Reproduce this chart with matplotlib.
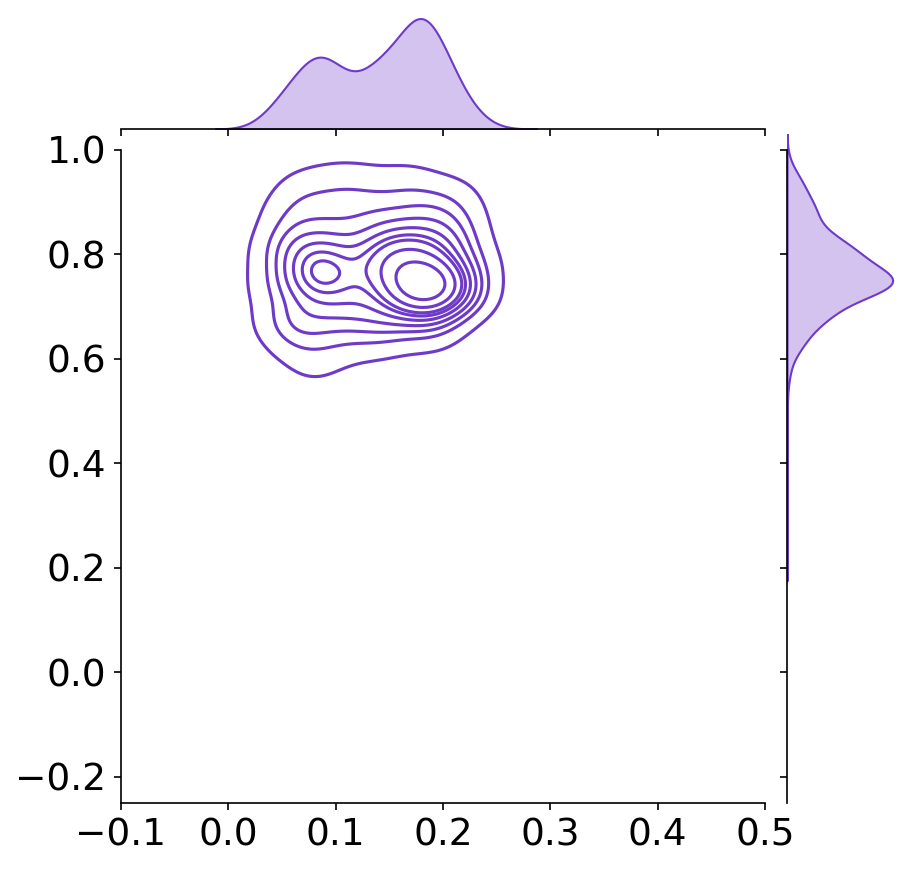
import matplotlib
matplotlib.use('Agg')
import matplotlib.pyplot as plt
import seaborn as sns

# 颜色
color = '#6e3ac8'

# anchor points (x, y, weight)
xs = [0.085, 0.088, 0.082, 0.090,
      0.183, 0.168, 0.203, 0.180,
      0.155, 0.175, 0.140, 0.200, 0.130,
      0.122, 0.118,
      0.060, 0.100, 0.140, 0.210,
      0.060, 0.100, 0.140, 0.180, 0.210,
      0.070, 0.120, 0.170, 0.210,
      0.100, 0.160,
      0.070, 0.110, 0.150, 0.190, 0.065, 0.100, 0.140, 0.190, 0.080,
      0.045, 0.045, 0.045,
      0.225, 0.230,
      0.150, 0.160, 0.140]
ys = [0.770, 0.745, 0.800, 0.728,
      0.745, 0.755, 0.737, 0.725,
      0.800, 0.820, 0.775, 0.800, 0.725,
      0.800, 0.760,
      0.830, 0.835, 0.840, 0.840,
      0.880, 0.890, 0.885, 0.880, 0.880,
      0.930, 0.935, 0.930, 0.920,
      0.960, 0.960,
      0.680, 0.685, 0.685, 0.690, 0.630, 0.625, 0.635, 0.645, 0.575,
      0.740, 0.800, 0.670,
      0.715, 0.780,
      0.500, 0.400, 0.320]
ws = [2.0, 1.3, 1.2, 0.6,
      4.0, 2.5, 2.0, 1.5,
      1.8, 1.6, 1.2, 1.2, 1.0,
      0.5, 0.4,
      0.8, 0.7, 0.8, 0.8,
      0.7, 0.7, 0.7, 0.8, 0.5,
      0.5, 0.5, 0.5, 0.35,
      0.2, 0.15,
      1.1, 1.1, 1.2, 1.1, 0.6, 0.5, 0.6, 0.5, 0.35,
      0.7, 0.5, 0.4,
      0.6, 0.5,
      0.05, 0.03, 0.02]

xticks = [-0.1, 0.0, 0.1, 0.2, 0.3, 0.4, 0.5]
yticks = [-0.2, 0.0, 0.2, 0.4, 0.6, 0.8, 1.0]

W, H = 909, 873
fig = plt.figure(figsize=(W / 150, H / 150), dpi=150)
ax = fig.add_axes([121 / W, 70 / H, 644 / W, 669 / H])
ax_x = fig.add_axes([121 / W, 744 / H, 644 / W, 116 / H], sharex=ax)
ax_y = fig.add_axes([787 / W, 70 / H, 111 / W, 669 / H], sharey=ax)

bw = 0.45
sns.kdeplot(x=xs, y=ys, weights=ws, bw_method=bw, color=color,
            linewidths=1.5, ax=ax)
sns.kdeplot(x=xs, weights=ws, bw_method=bw * 0.8, color=color, fill=True,
            alpha=0.3, linewidth=1, ax=ax_x)
sns.kdeplot(y=ys, weights=ws, bw_method=bw * 0.8, color=color, fill=True,
            alpha=0.3, linewidth=1, ax=ax_y)

ax.set_xlim(-0.1, 0.5)
ax.set_ylim(-0.25, 1.03)
ax.set_xticks(xticks)
ax.set_yticks(yticks)
ax.tick_params(labelsize=18)
ax.set_xlabel('')
ax.set_ylabel('')
for s in ['top', 'right']:
    ax.spines[s].set_visible(False)
ax.spines['left'].set_bounds(-0.25, 1.0)

# marginal x
for s in ['top', 'right', 'left']:
    ax_x.spines[s].set_visible(False)
ax_x.tick_params(axis='x', labelbottom=False)
ax_x.set_yticks([])
ax_x.set_ylabel('')

# marginal y
for s in ['top', 'right', 'bottom']:
    ax_y.spines[s].set_visible(False)
ax_y.spines['left'].set_bounds(-0.25, 1.0)
ax_y.tick_params(axis='y', labelleft=False)
ax_y.set_xticks([])
ax_y.set_xlabel('')

fig.savefig('out.png', dpi=150)
